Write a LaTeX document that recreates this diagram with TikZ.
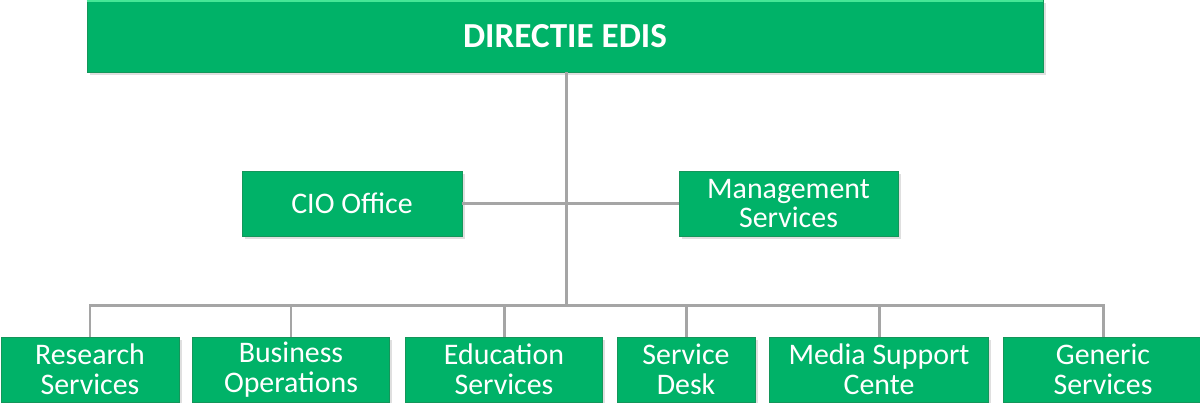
\documentclass[tikz,border=0pt]{standalone}
\usepackage{fontspec}
\setmainfont{Carlito}
\usetikzlibrary{positioning,shadows}
\usepackage{xcolor}
\definecolor{edisgroen}{RGB}{0,178,104}
\definecolor{edisrand}{RGB}{20,150,90}
\definecolor{edislicht}{RGB}{70,230,150}
\definecolor{lijngrijs}{RGB}{165,165,165}

\begin{document}
\begin{tikzpicture}
    % Stijlen
    \tikzstyle{afdeling} = [rectangle, fill=edisgroen, draw=edisrand, line width=0.4pt, text=white, align=center, inner sep=0pt, font=\fontsize{17}{17}\selectfont, drop shadow={opacity=0.25, shadow xshift=0.05cm, shadow yshift=-0.05cm}]
    \tikzstyle{lijn} = [draw=lijngrijs, line width=1.7pt]

    \useasboundingbox (0,0) rectangle (24,8.04);
    \clip (0,0) rectangle (24,8.04);

    % Directie
    \node[afdeling, minimum width=19.12cm, minimum height=1.44cm, font=\fontsize{20}{20}\selectfont\bfseries] (directie) at (11.3,7.32) {DIRECTIE EDIS};
    \draw[edislicht, line width=1.5pt] ([yshift=-0.75pt]directie.north west) -- ([yshift=-0.75pt]directie.north east);

    % Staf
    \node[afdeling, minimum width=4.4cm, minimum height=1.3cm] (cio) at (7.04,3.97) {CIO Office};
    \node[afdeling, minimum width=4.38cm, minimum height=1.3cm] (management) at (15.77,3.97) {Management\\Services};

    % Afdelingen
    \node[afdeling, minimum width=3.56cm, minimum height=1.3cm] (research) at (1.8,0.65) {Research\\Services};
    \node[afdeling, minimum width=3.94cm, minimum height=1.3cm] (business) at (5.82,0.65) {Business\\Operations};
    \node[afdeling, minimum width=3.94cm, minimum height=1.3cm] (education) at (10.08,0.65) {Education\\Services};
    \node[afdeling, minimum width=2.76cm, minimum height=1.3cm] (servicedesk) at (13.72,0.65) {Service\\Desk};
    \node[afdeling, minimum width=4.38cm, minimum height=1.3cm] (media) at (17.58,0.65) {Media Support\\Cente};
    \node[afdeling, minimum width=4.0cm, minimum height=1.3cm] (generic) at (22.06,0.65) {Generic\\Services};

    % Verbindingen
    \coordinate (stam) at (11.32,1.94);
    \draw[lijn] (directie.south -| stam) -- (stam);
    \draw[lijn] (cio.east) -- (management.west);
    \draw[lijn] (research.north) |- (stam) -| (generic.north);
    \foreach \afd in {business, education, servicedesk, media}
        \draw[lijn] (\afd.north) -- (\afd.north |- stam);
\end{tikzpicture}
\end{document}
